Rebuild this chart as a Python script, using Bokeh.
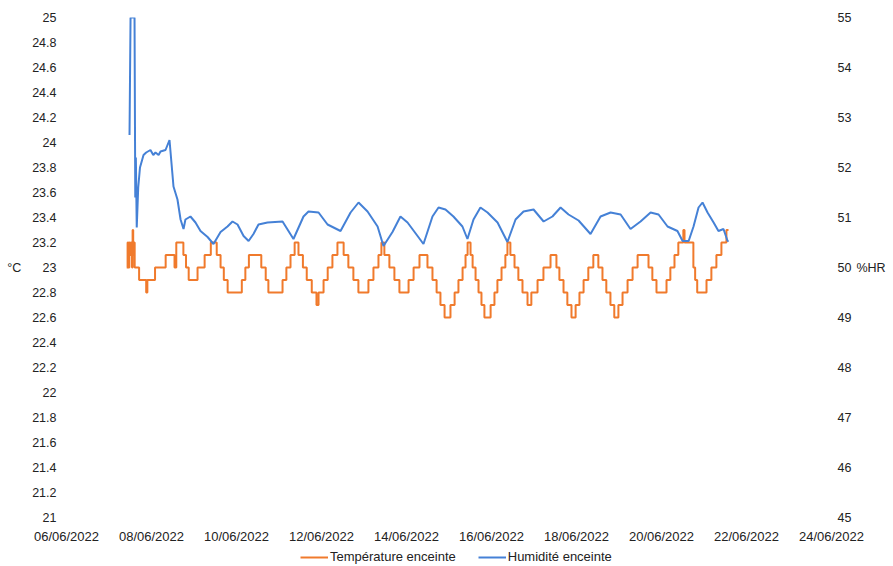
import pandas as pd
from bokeh.plotting import figure
from bokeh.layouts import column
from bokeh.models import (Range1d, LinearAxis, FixedTicker, DatetimeTickFormatter,
                          Legend, LegendItem)
from bokeh.embed import file_html
from bokeh.resources import INLINE

# ---------------- data ----------------
temp_times = [
    "2022-06-07 10:00", "2022-06-07 10:30", "2022-06-07 11:00", "2022-06-07 11:30",
    "2022-06-07 12:00", "2022-06-07 12:30", "2022-06-07 13:00", "2022-06-07 13:20",
    "2022-06-07 13:40", "2022-06-07 14:00", "2022-06-07 14:30", "2022-06-07 17:00",
    "2022-06-07 21:00", "2022-06-07 21:40", "2022-06-08 02:00", "2022-06-08 08:00",
    "2022-06-08 13:00", "2022-06-08 14:00", "2022-06-08 18:00", "2022-06-08 19:30",
    "2022-06-08 21:00", "2022-06-09 02:00", "2022-06-09 06:00", "2022-06-09 09:30",
    "2022-06-09 12:50", "2022-06-09 15:00", "2022-06-09 16:50", "2022-06-09 19:00",
    "2022-06-10 03:00", "2022-06-10 05:00", "2022-06-10 07:00", "2022-06-10 14:00",
    "2022-06-10 16:30", "2022-06-10 18:00", "2022-06-11 02:00", "2022-06-11 04:10",
    "2022-06-11 06:30", "2022-06-11 08:50", "2022-06-11 11:00", "2022-06-11 13:30",
    "2022-06-11 15:40", "2022-06-11 18:30", "2022-06-11 21:10", "2022-06-11 22:20",
    "2022-06-12 01:10", "2022-06-12 03:30", "2022-06-12 06:10", "2022-06-12 09:00",
    "2022-06-12 12:30", "2022-06-12 15:10", "2022-06-12 18:00", "2022-06-12 20:50",
    "2022-06-13 02:30", "2022-06-13 05:20", "2022-06-13 08:10", "2022-06-13 09:50",
    "2022-06-13 11:30", "2022-06-13 14:20", "2022-06-13 17:10", "2022-06-13 20:00",
    "2022-06-14 01:10", "2022-06-14 04:00", "2022-06-14 07:20", "2022-06-14 11:50",
    "2022-06-14 14:40", "2022-06-14 17:00", "2022-06-14 19:10", "2022-06-14 21:30",
    "2022-06-15 00:50", "2022-06-15 03:10", "2022-06-15 05:20", "2022-06-15 07:40",
    "2022-06-15 09:20", "2022-06-15 10:30", "2022-06-15 12:10", "2022-06-15 13:20",
    "2022-06-15 15:00", "2022-06-15 16:40", "2022-06-15 18:20", "2022-06-15 20:00",
    "2022-06-15 23:30", "2022-06-16 01:40", "2022-06-16 03:20", "2022-06-16 05:40",
    "2022-06-16 07:50", "2022-06-16 09:00", "2022-06-16 10:40", "2022-06-16 13:00",
    "2022-06-16 15:10", "2022-06-16 17:30", "2022-06-16 20:20", "2022-06-16 22:30",
    "2022-06-17 02:00", "2022-06-17 05:20", "2022-06-17 09:20", "2022-06-17 12:40",
    "2022-06-17 14:20", "2022-06-17 16:40", "2022-06-17 18:50", "2022-06-17 21:10",
    "2022-06-17 23:30", "2022-06-18 01:40", "2022-06-18 04:00", "2022-06-18 06:40",
    "2022-06-18 09:30", "2022-06-18 12:20", "2022-06-18 14:40", "2022-06-18 16:50",
    "2022-06-18 19:10", "2022-06-18 21:20", "2022-06-18 23:40", "2022-06-19 02:00",
    "2022-06-19 04:50", "2022-06-19 07:40", "2022-06-19 10:30", "2022-06-19 16:40",
    "2022-06-19 18:50", "2022-06-19 21:10", "2022-06-20 02:50", "2022-06-20 05:00",
    "2022-06-20 07:20", "2022-06-20 09:30", "2022-06-20 12:20", "2022-06-20 13:00",
    "2022-06-20 18:00", "2022-06-20 19:00", "2022-06-20 20:10", "2022-06-21 01:25",
    "2022-06-21 04:10", "2022-06-21 07:00", "2022-06-21 09:50", "2022-06-21 12:40",
    "2022-06-21 13:50",
]
temp_values = [
    23.0, 23.2, 23.0, 23.2,
    23.1, 23.2, 23.0, 23.3,
    23.1, 23.2, 23.0, 22.9,
    22.8, 22.9, 23.0, 23.1,
    23.0, 23.2, 23.1, 23.0,
    22.9, 23.0, 23.1, 23.2,
    23.1, 23.0, 22.9, 22.8,
    22.9, 23.0, 23.1, 23.0,
    22.9, 22.8, 22.9, 23.0,
    23.1, 23.2, 23.1, 23.0,
    22.9, 22.8, 22.7, 22.8,
    22.9, 23.0, 23.1, 23.2,
    23.1, 23.0, 22.9, 22.8,
    22.9, 23.0, 23.1, 23.2,
    23.1, 23.0, 22.9, 22.8,
    22.9, 23.0, 23.1, 23.0,
    22.9, 22.8, 22.7, 22.6,
    22.7, 22.8, 22.9, 23.0,
    23.1, 23.2, 23.1, 23.0,
    22.9, 22.8, 22.7, 22.6,
    22.7, 22.8, 22.9, 23.0,
    23.1, 23.2, 23.1, 23.0,
    22.9, 22.8, 22.7, 22.8,
    22.9, 23.0, 23.1, 23.0,
    22.9, 22.8, 22.7, 22.6,
    22.7, 22.8, 22.9, 23.0,
    23.1, 23.0, 22.9, 22.8,
    22.7, 22.6, 22.7, 22.8,
    22.9, 23.0, 23.1, 23.0,
    22.9, 22.8, 22.9, 23.0,
    23.1, 23.2, 23.3, 23.2,
    23.0, 22.9, 22.8, 22.9,
    23.0, 23.1, 23.2, 23.3,
    23.3,
]

hum_times = [
    "2022-06-07 11:35", "2022-06-07 12:10", "2022-06-07 14:25", "2022-06-07 14:50",
    "2022-06-07 15:10", "2022-06-07 15:40", "2022-06-07 16:30", "2022-06-07 17:30",
    "2022-06-07 19:30", "2022-06-07 21:00", "2022-06-07 23:25", "2022-06-08 01:00",
    "2022-06-08 02:15", "2022-06-08 04:00", "2022-06-08 05:05", "2022-06-08 07:55",
    "2022-06-08 10:10", "2022-06-08 12:25", "2022-06-08 14:40", "2022-06-08 16:25",
    "2022-06-08 18:05", "2022-06-08 19:10", "2022-06-08 22:00", "2022-06-09 00:50",
    "2022-06-09 03:40", "2022-06-09 07:40", "2022-06-09 11:00", "2022-06-09 15:00",
    "2022-06-09 18:55", "2022-06-09 21:45", "2022-06-10 00:35", "2022-06-10 04:00",
    "2022-06-10 06:50", "2022-06-10 09:35", "2022-06-10 12:25", "2022-06-10 17:30",
    "2022-06-11 02:00", "2022-06-11 08:10", "2022-06-11 13:50", "2022-06-11 16:40",
    "2022-06-11 22:20", "2022-06-12 03:25", "2022-06-12 10:45", "2022-06-12 16:25",
    "2022-06-12 20:55", "2022-06-13 02:00", "2022-06-13 07:40", "2022-06-13 11:00",
    "2022-06-13 16:05", "2022-06-13 20:35", "2022-06-14 00:35", "2022-06-14 06:15",
    "2022-06-14 09:35", "2022-06-14 14:40", "2022-06-14 18:05", "2022-06-14 22:00",
    "2022-06-15 02:30", "2022-06-15 07:35", "2022-06-15 10:25", "2022-06-15 13:50",
    "2022-06-15 17:45", "2022-06-15 21:45", "2022-06-16 03:25", "2022-06-16 09:00",
    "2022-06-16 13:35", "2022-06-16 18:05", "2022-06-16 23:45", "2022-06-17 05:25",
    "2022-06-17 10:25", "2022-06-17 15:00", "2022-06-17 19:30", "2022-06-18 01:10",
    "2022-06-18 07:55", "2022-06-18 13:35", "2022-06-18 19:15", "2022-06-19 00:55",
    "2022-06-19 06:30", "2022-06-19 12:10", "2022-06-19 17:50", "2022-06-19 22:20",
    "2022-06-20 03:25", "2022-06-20 09:00", "2022-06-20 11:55", "2022-06-20 15:20",
    "2022-06-20 18:05", "2022-06-20 20:55", "2022-06-20 23:10", "2022-06-21 02:00",
    "2022-06-21 05:25", "2022-06-21 08:10", "2022-06-21 11:00", "2022-06-21 13:20",
    "2022-06-21 13:55",
]
hum_values = [
    52.65, 55.0, 55.0, 51.4,
    52.2, 50.8, 51.6, 52.0,
    52.25, 52.3, 52.35, 52.25,
    52.3, 52.25, 52.32, 52.35,
    52.55, 51.62, 51.36, 50.96,
    50.77, 50.96, 51.02, 50.9,
    50.73, 50.61, 50.47, 50.71,
    50.82, 50.92, 50.86, 50.63,
    50.53, 50.67, 50.86, 50.9,
    50.92, 50.57, 51.02, 51.12,
    51.1, 50.86, 50.73, 51.1,
    51.3, 51.12, 50.82, 50.43,
    50.71, 51.02, 50.9, 50.63,
    50.47, 51.02, 51.2, 51.16,
    51.02, 50.82, 50.57, 50.96,
    51.2, 51.1, 50.9, 50.51,
    50.96, 51.12, 51.16, 50.92,
    51.02, 51.2, 51.06, 50.94,
    50.67, 51.02, 51.1, 51.06,
    50.77, 50.92, 51.1, 51.06,
    50.82, 50.73, 50.53, 50.53,
    50.82, 51.2, 51.3, 51.1,
    50.9, 50.73, 50.77, 50.53,
    50.53,
]

date_ticks = ["2022-06-06", "2022-06-08", "2022-06-10", "2022-06-12", "2022-06-14",
              "2022-06-16", "2022-06-18", "2022-06-20", "2022-06-22", "2022-06-24"]
left_ticks = [21, 21.2, 21.4, 21.6, 21.8, 22, 22.2, 22.4, 22.6, 22.8, 23,
              23.2, 23.4, 23.6, 23.8, 24, 24.2, 24.4, 24.6, 24.8, 25]
left_tick_labels = ["21", "21.2", "21.4", "21.6", "21.8", "22", "22.2", "22.4", "22.6",
                    "22.8", "23", "23.2", "23.4", "23.6", "23.8", "24", "24.2", "24.4",
                    "24.6", "24.8", "25"]
right_ticks = [45, 46, 47, 48, 49, 50, 51, 52, 53, 54, 55]
right_tick_labels = ["45", "46", "47", "48", "49", "50", "51", "52", "53", "54", "55"]

series_names = ["Température enceinte", "Humidité enceinte"]
left_unit = "°C"
right_unit = "%HR"

# ---------------- styling ----------------
ORANGE = "#F07A2C"
BLUE = "#4581D6"
FONT = "Liberation Sans"
TXT = "#222222"
W = 888

temp_x = pd.to_datetime(temp_times)
hum_x = pd.to_datetime(hum_times)
tick_ms = [pd.Timestamp(d).value // 10**6 for d in date_ticks]

p = figure(width=W, height=548, x_axis_type="datetime",
           output_backend="svg", toolbar_location=None,
           x_range=Range1d(pd.Timestamp(date_ticks[0]), pd.Timestamp(date_ticks[-1])),
           y_range=Range1d(left_ticks[0], left_ticks[-1]),
           min_border_left=66, min_border_right=57, min_border_top=17, min_border_bottom=31)
p.extra_y_ranges = {"hum": Range1d(right_ticks[0], right_ticks[-1])}
p.xgrid.visible = False
p.ygrid.visible = False
p.outline_line_color = None
p.background_fill_color = "white"
p.border_fill_color = "white"

t_r = p.step(temp_x, temp_values, mode="after", line_color=ORANGE, line_width=2)
h_r = p.line(hum_x, hum_values, y_range_name="hum", line_color=BLUE, line_width=2)


def style(ax, size="12.5px"):
    ax.axis_line_color = None
    ax.major_tick_line_color = None
    ax.minor_tick_line_color = None
    ax.major_tick_in = 0
    ax.major_tick_out = 0
    ax.major_label_text_font = FONT
    ax.major_label_text_font_size = size
    ax.major_label_text_color = TXT
    ax.axis_label_text_font = FONT
    ax.axis_label_text_font_size = "12.5px"
    ax.axis_label_text_font_style = "normal"
    ax.axis_label_text_color = TXT


# x axis
xa = p.xaxis[0]
xa.ticker = FixedTicker(ticks=tick_ms)
fmt = "%d/%m/%Y"
xa.formatter = DatetimeTickFormatter(milliseconds=fmt, seconds=fmt, minsec=fmt, minutes=fmt,
                                     hourmin=fmt, hours=fmt, days=fmt, months=fmt, years=fmt)
style(xa, "13px")
xa.major_label_standoff = 11

# left axis
ya = p.yaxis[0]
ya.ticker = FixedTicker(ticks=left_ticks)
ya.major_label_overrides = dict(zip(left_ticks, left_tick_labels))
style(ya)
ya.major_label_standoff = 10
ya.axis_label = left_unit
ya.axis_label_orientation = "horizontal"
ya.axis_label_standoff = 8

# right axis
ra = LinearAxis(y_range_name="hum", ticker=FixedTicker(ticks=right_ticks))
ra.major_label_overrides = dict(zip(right_ticks, right_tick_labels))
style(ra)
ra.major_label_standoff = 6
ra.axis_label = right_unit
ra.axis_label_orientation = "horizontal"
ra.axis_label_standoff = 2
p.add_layout(ra, "right")

# legend strip below the chart (dummy off-range sample lines give the legend its glyphs)
lg = figure(width=W, height=16, output_backend="svg", toolbar_location=None,
            x_range=Range1d(0, 1), y_range=Range1d(0, 1), min_border=0)
lg.axis.visible = False
lg.grid.visible = False
lg.outline_line_color = None
lt = lg.line(x=[-3, -2], y=[-3, -2], line_color=ORANGE, line_width=2)
lh = lg.line(x=[-3, -2], y=[-3, -2], line_color=BLUE, line_width=2)
legend = Legend(items=[LegendItem(label=series_names[0], renderers=[lt]),
                       LegendItem(label=series_names[1], renderers=[lh])],
                orientation="horizontal", location=(234, 0),
                label_text_font=FONT, label_text_font_size="13px", label_text_color=TXT,
                glyph_width=28, glyph_height=12, label_standoff=2, spacing=22,
                padding=0, margin=0, border_line_color=None, background_fill_alpha=0)
lg.add_layout(legend)

layout = column(p, lg, spacing=0)
open("out.html", "w").write(file_html(layout, INLINE))
